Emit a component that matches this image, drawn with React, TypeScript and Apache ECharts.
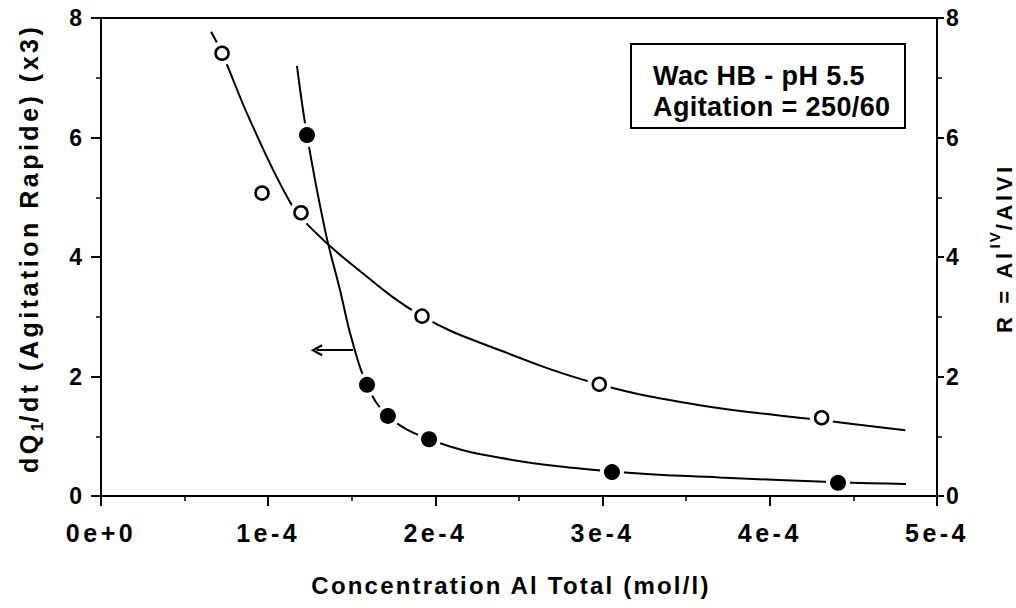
import React, { useEffect, useRef } from 'react';
import * as echarts from 'echarts';

// ---- data ----
const xTickLabels = ['0e+0', '1e-4', '2e-4', '3e-4', '4e-4', '5e-4'];

// open circles (measured points)
const openPoints: number[][] = [
  [0.724e-4, 7.41],
  [0.963e-4, 5.07],
  [1.196e-4, 4.74],
  [1.92e-4, 3.01],
  [2.98e-4, 1.87],
  [4.31e-4, 1.31],
];
// filled circles (measured points)
const filledPoints: number[][] = [
  [1.232e-4, 6.04],
  [1.591e-4, 1.86],
  [1.716e-4, 1.34],
  [1.962e-4, 0.95],
  [3.056e-4, 0.4],
  [4.408e-4, 0.22],
];
// fitted curve through open circles
const openCurve: number[][] = [
  [0.658e-4, 7.77],
  [0.724e-4, 7.41],
  [0.891e-4, 6.29],
  [1.13e-4, 4.92],
  [1.25e-4, 4.5],
  [1.489e-4, 3.9],
  [1.92e-4, 3.01],
  [2.386e-4, 2.44],
  [2.978e-4, 1.87],
  [3.58e-4, 1.52],
  [4.306e-4, 1.27],
  [4.81e-4, 1.1],
];
// fitted curve through filled circles
const filledCurve: number[][] = [
  [1.172e-4, 7.2],
  [1.232e-4, 6.04],
  [1.34e-4, 4.45],
  [1.429e-4, 3.45],
  [1.501e-4, 2.61],
  [1.591e-4, 1.86],
  [1.716e-4, 1.34],
  [1.962e-4, 0.95],
  [2.386e-4, 0.64],
  [3.056e-4, 0.41],
  [3.7e-4, 0.31],
  [4.408e-4, 0.23],
  [4.815e-4, 0.2],
];
// arrow pointing to left axis
const arrowFrom = [1.507e-4, 2.44];
const arrowTo = [1.29e-4, 2.44];

const legendLines = ['Wac HB - pH 5.5', 'Agitation = 250/60'];
const xTitle = 'Concentration Al Total (mol/l)';

const FONT = 'Liberation Sans';

let measureCtx: CanvasRenderingContext2D | null = null;
function textWidth(t: string, size: number, sp: number) {
  if (!measureCtx) measureCtx = document.createElement('canvas').getContext('2d');
  measureCtx!.font = `bold ${size}px "${FONT}"`;
  return measureCtx!.measureText(t).width + sp * t.length;
}

type Run = { t: string; size: number; sp: number; shift?: number };
function verticalRuns(cx: number, yStart: number, runs: Run[]) {
  let y = yStart;
  const els: any[] = [];
  for (const r of runs) {
    els.push({
      type: 'text',
      x: cx + (r.shift || 0),
      y,
      rotation: Math.PI / 2,
      silent: true,
      style: {
        text: r.t,
        fill: '#000',
        fontSize: r.size,
        fontWeight: 'bold',
        fontFamily: FONT,
        align: 'left',
        verticalAlign: 'middle',
        textAlign: 'left',
        textVerticalAlign: 'middle',
      },
    });
    y -= textWidth(r.t, r.size, r.sp);
  }
  return els;
}

const black = '#000';

export default function App() {
  const ref = useRef<HTMLDivElement>(null);
  useEffect(() => {
    if (!ref.current) return;
    const chart = echarts.init(ref.current, null, { renderer: 'svg' });

    const yLabel = (margin: number) => ({
      show: true,
      color: black,
      fontSize: 23,
      fontWeight: 'bold',
      fontFamily: FONT,
      margin,
    });

    const gapData = [...openPoints, ...filledPoints];

    chart.setOption({
      animation: false,
      backgroundColor: '#fff',
      grid: {
        left: 101,
        right: 79,
        top: 18,
        bottom: 112,
        show: true,
        borderColor: black,
        borderWidth: 2,
        backgroundColor: 'transparent',
      },
      xAxis: {
        type: 'value',
        min: 0,
        max: 5e-4,
        interval: 1e-4,
        axisLine: { show: true, lineStyle: { color: black, width: 2 } },
        axisTick: { show: true, inside: false, length: 10, lineStyle: { color: black, width: 2 } },
        minorTick: { show: true, splitNumber: 2, length: 5, lineStyle: { color: black, width: 1.5 } },
        splitLine: { show: false },
        minorSplitLine: { show: false },
        axisLabel: {
          color: black,
          fontSize: 25,
          fontWeight: 'bold',
          fontFamily: FONT,
          margin: 24,
          formatter: (v: number) => xTickLabels[Math.round(v / 1e-4)] ?? '',
        },
      },
      yAxis: [
        {
          type: 'value',
          position: 'left',
          min: 0,
          max: 8,
          interval: 2,
          axisLine: { show: true, lineStyle: { color: black, width: 2 } },
          axisTick: { show: true, inside: false, length: 10, lineStyle: { color: black, width: 2 } },
          minorTick: { show: true, splitNumber: 2, length: 5, lineStyle: { color: black, width: 1.5 } },
          splitLine: { show: false },
          minorSplitLine: { show: false },
          axisLabel: yLabel(19),
        },
        {
          type: 'value',
          position: 'right',
          min: 0,
          max: 8,
          interval: 2,
          axisLine: { show: true, lineStyle: { color: black, width: 2 } },
          axisTick: { show: true, inside: false, length: 7, lineStyle: { color: black, width: 2 } },
          minorTick: { show: true, splitNumber: 2, length: 5, lineStyle: { color: black, width: 1.5 } },
          splitLine: { show: false },
          minorSplitLine: { show: false },
          axisLabel: yLabel(9),
        },
      ],
      series: [
        {
          type: 'line',
          name: 'open fit',
          data: openCurve,
          smooth: 0.4,
          showSymbol: false,
          symbol: 'none',
          lineStyle: { color: black, width: 2 },
          z: 2,
          silent: true,
        },
        {
          type: 'line',
          name: 'filled fit',
          data: filledCurve,
          smooth: 0.4,
          showSymbol: false,
          symbol: 'none',
          lineStyle: { color: black, width: 2 },
          z: 2,
          silent: true,
          markLine: {
            silent: true,
            symbol: ['none', 'path://M5,0 L10,9 L8.4,10 L5,3.6 L1.6,10 L0,9 Z'],
            symbolSize: [12, 12],
            label: { show: false },
            lineStyle: { color: black, width: 2, type: 'solid' },
            data: [[{ coord: arrowFrom }, { coord: arrowTo }]],
          },
        },
        {
          type: 'scatter',
          name: 'gaps',
          data: gapData,
          symbol: 'circle',
          symbolSize: 24,
          itemStyle: { color: '#ffffff', borderWidth: 0, opacity: 1 },
          z: 5,
          silent: true,
        },
        {
          type: 'scatter',
          name: 'open',
          data: openPoints,
          symbol: 'circle',
          symbolSize: 13,
          itemStyle: { color: '#fff', borderColor: black, borderWidth: 2.5, opacity: 1 },
          z: 6,
          silent: true,
        },
        {
          type: 'scatter',
          name: 'filled',
          data: filledPoints,
          symbol: 'circle',
          symbolSize: 16,
          itemStyle: { color: black, opacity: 1 },
          z: 6,
          silent: true,
        },
      ],
      graphic: [
        {
          type: 'rect',
          shape: { x: 631, y: 44, width: 274, height: 84 },
          style: { fill: '#fff', stroke: black, lineWidth: 2 },
          z: 10,
          silent: true,
        },
        ...legendLines.map((t, i) => ({
          type: 'text',
          x: 653,
          y: 76 + i * 31,
          z: 11,
          silent: true,
          style: {
            text: t,
            fill: black,
            fontSize: 27,
            fontWeight: 'bold',
            fontFamily: FONT,
            align: 'left',
            verticalAlign: 'middle',
            textAlign: 'left',
            textVerticalAlign: 'middle',
          },
        })),
        {
          type: 'text',
          x: 511,
          y: 585,
          silent: true,
          style: {
            text: xTitle,
            fill: black,
            fontSize: 24,
            fontWeight: 'bold',
            fontFamily: FONT,
            align: 'center',
            verticalAlign: 'middle',
            textAlign: 'center',
            textVerticalAlign: 'middle',
          },
        },
        ...verticalRuns(29, 473, [
          { t: 'dQ', size: 25, sp: 3.5 },
          { t: '1', size: 16, sp: 0, shift: 8 },
          { t: '/dt (Agitation Rapide) (x3)', size: 25, sp: 3.5 },
        ]),
        ...verticalRuns(1004, 333, [
          { t: 'R = Al', size: 22, sp: 3.6 },
          { t: 'IV', size: 15, sp: 2, shift: -10 },
          { t: '/AlVI', size: 22, sp: 3.6 },
        ]),
      ],
    });
    return () => chart.dispose();
  }, []);

  const css = `
    .rc text[style*="25px"], .rc text[font-size="25px"] { letter-spacing: 3.5px; }
    .rc text[style*="24px"], .rc text[font-size="24px"] { letter-spacing: 2.2px; }
    .rc text[style*="22px"], .rc text[font-size="22px"] { letter-spacing: 3.6px; }
    .rc text[style*="15px"], .rc text[font-size="15px"] { letter-spacing: 2px; }
    .rc text[style*="27px"], .rc text[font-size="27px"] { letter-spacing: 0.4px; }
  `;

  return (
    <>
      <style>{css}</style>
      <div
        ref={ref}
        className="rc"
        style={{ position: 'absolute', left: 0, top: 0, width: 1016, height: 608, background: '#fff' }}
      />
    </>
  );
}
